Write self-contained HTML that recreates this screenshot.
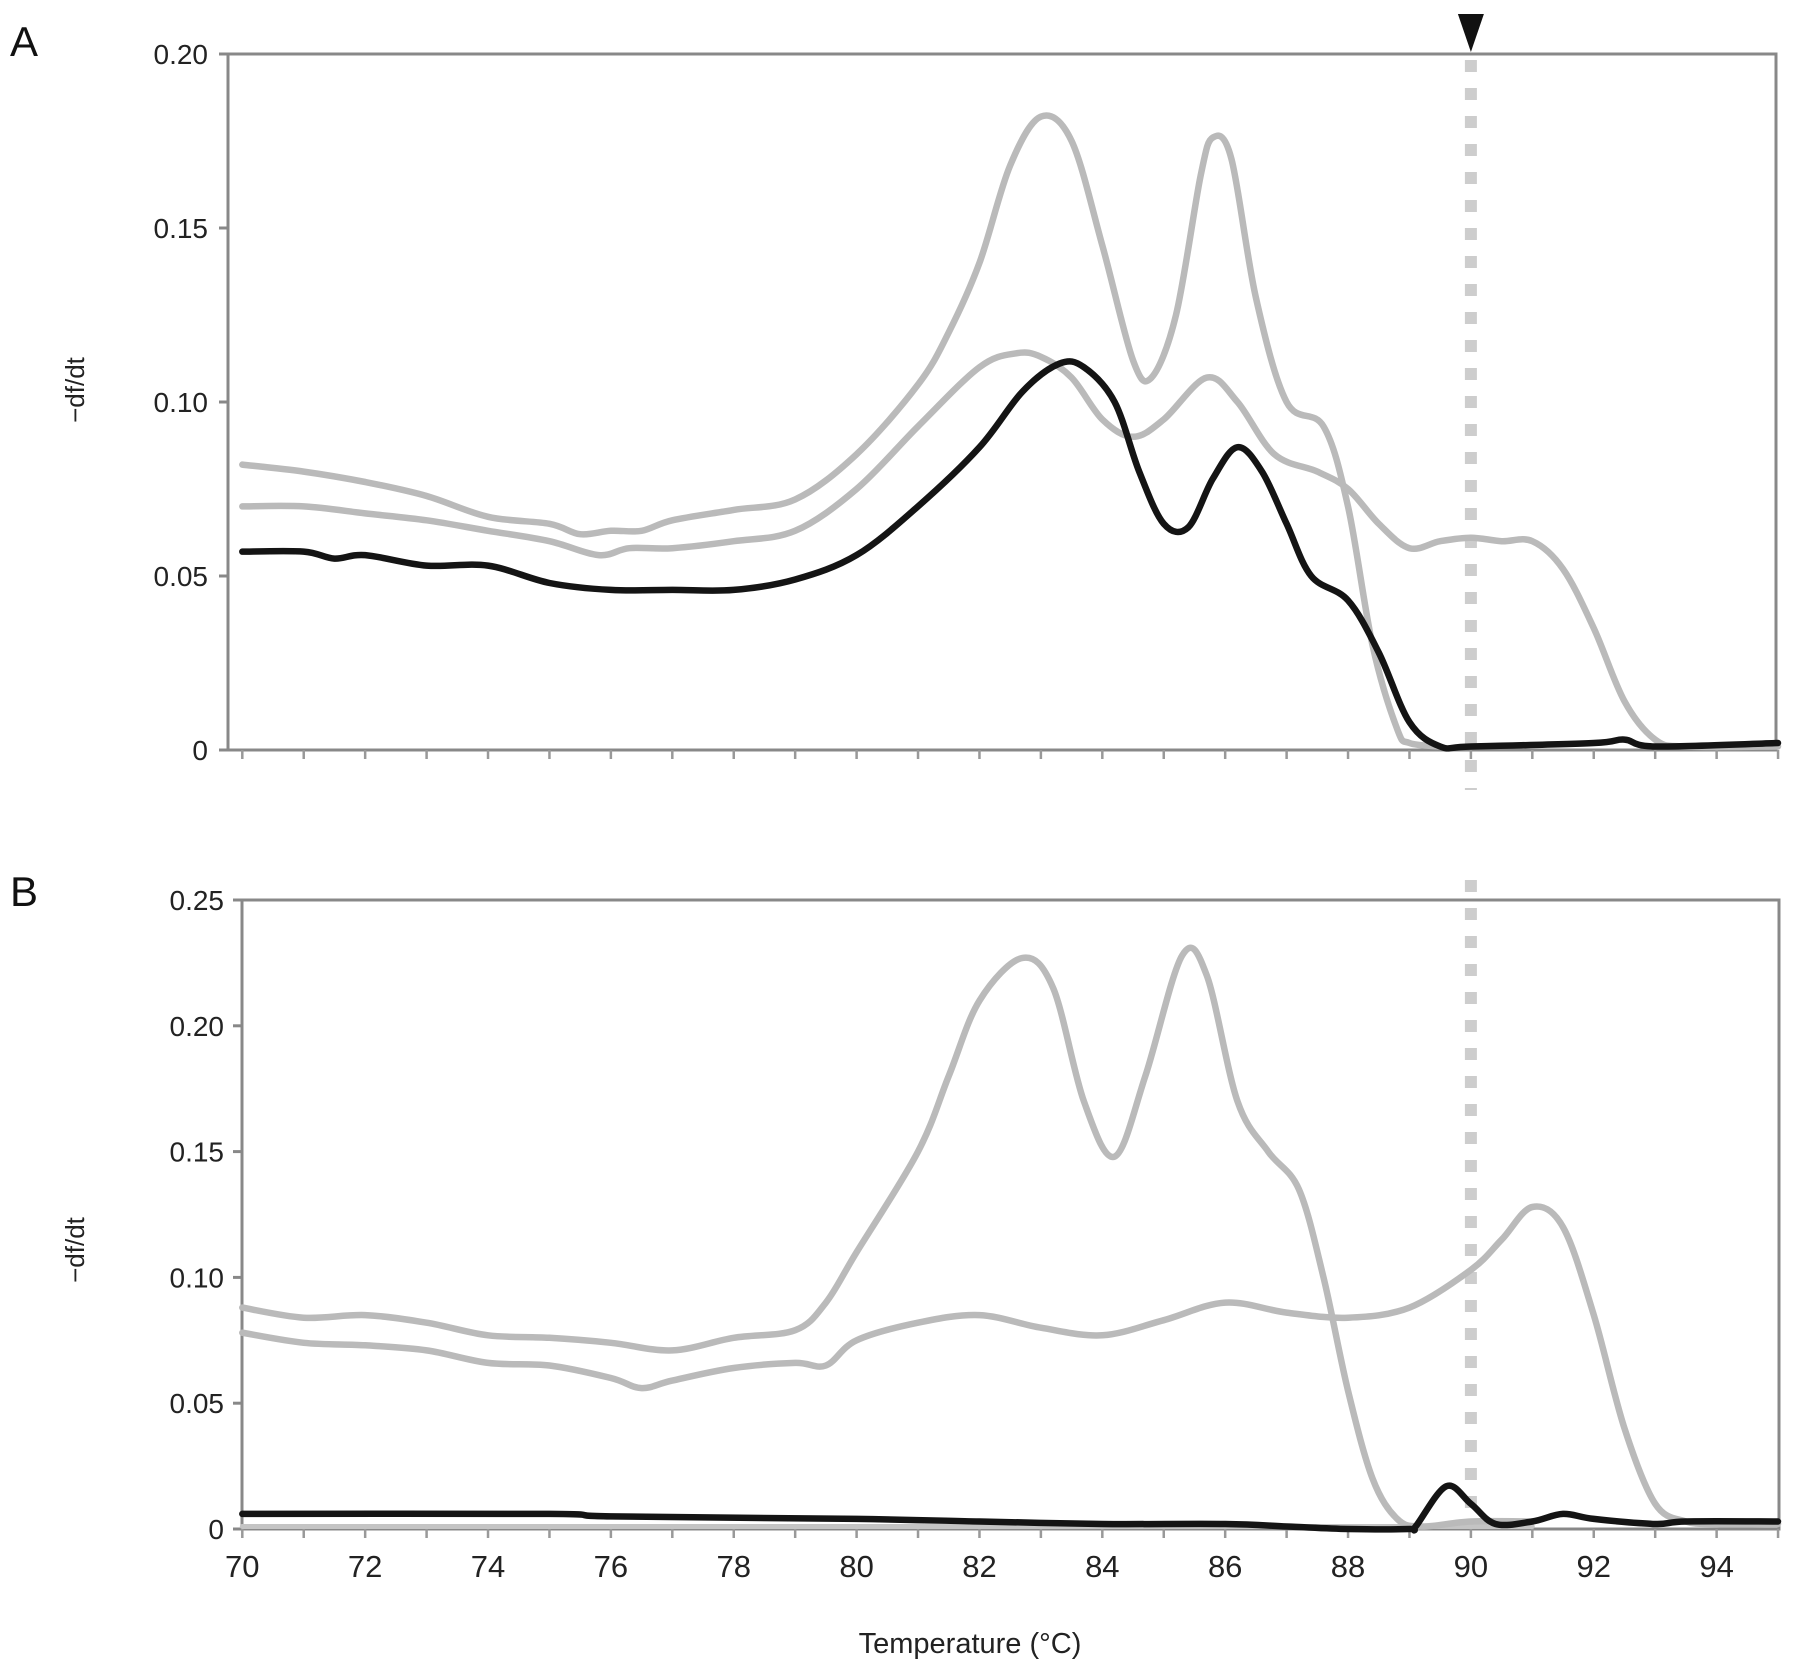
<!DOCTYPE html>
<html><head><meta charset="utf-8"><style>
html,body{margin:0;padding:0;background:#fff;}
svg{display:block;font-family:"Liberation Sans",Arial,sans-serif;}
</style></head><body>
<svg id="chart" width="1795" height="1674" viewBox="0 0 1795 1674" xmlns="http://www.w3.org/2000/svg">
<text x="10" y="56" font-size="42" fill="#111">A</text>
<text x="10" y="906" font-size="42" fill="#111">B</text>
<text transform="translate(84,390) rotate(-90)" text-anchor="middle" font-size="26" fill="#222">−df/dt</text>
<text transform="translate(84,1250) rotate(-90)" text-anchor="middle" font-size="26" fill="#222">−df/dt</text>
<text x="970" y="1653" text-anchor="middle" font-size="29" fill="#222">Temperature (°C)</text>
<g id="pa"></g>
<g id="pb"></g>
</svg>
<script>
const xTicks=[70,72,74,76,78,80,82,84,86,88,90,92,94];
const aYTicks=[0,0.05,0.10,0.15,0.20];
const aYLabels=["0","0.05","0.10","0.15","0.20"];
const bYTicks=[0,0.05,0.10,0.15,0.20,0.25];
const bYLabels=["0","0.05","0.10","0.15","0.20","0.25"];
const markerTemp=90;

const aGray1X=[70,71,72,73,74,75,75.5,76,76.5,77,78,79,80,81,81.5,82,82.5,83,83.5,84,84.5,84.8,85.2,85.6,85.8,86.1,86.5,87,87.6,88,88.4,88.8,89,89.5];
const aGray1Y=[0.082,0.080,0.077,0.073,0.067,0.065,0.062,0.063,0.063,0.066,0.069,0.072,0.085,0.105,0.12,0.14,0.168,0.182,0.175,0.145,0.112,0.107,0.125,0.165,0.176,0.17,0.13,0.10,0.093,0.07,0.03,0.006,0.002,0.001];
const aGray2X=[70,71,72,73,74,75,75.8,76.3,77,78,79,80,81,82,82.6,83,83.5,84,84.5,85,85.7,86.2,86.8,87.5,88,88.5,89,89.5,90,90.5,91,91.5,92,92.5,93,93.5,95];
const aGray2Y=[0.07,0.07,0.068,0.066,0.063,0.06,0.056,0.058,0.058,0.06,0.063,0.075,0.093,0.11,0.114,0.113,0.107,0.095,0.09,0.095,0.107,0.1,0.085,0.08,0.075,0.065,0.058,0.06,0.061,0.06,0.06,0.052,0.035,0.014,0.003,0.001,0.001];
const aBlackX=[70,71,71.5,72,73,74,75,76,77,78,79,80,81,82,82.7,83.3,83.7,84.2,84.6,85,85.4,85.8,86.2,86.6,87,87.4,88,88.5,89,89.5,90,92,92.5,93,95];
const aBlackY=[0.057,0.057,0.055,0.056,0.053,0.053,0.048,0.046,0.046,0.046,0.049,0.056,0.07,0.087,0.103,0.111,0.11,0.1,0.08,0.065,0.064,0.078,0.087,0.08,0.065,0.05,0.043,0.028,0.008,0.001,0.001,0.002,0.003,0.001,0.002];

const bGray1X=[70,71,72,73,74,75,76,77,78,79,79.5,80,81,81.5,82,82.7,83.2,83.7,84.2,84.7,85.3,85.7,86.2,86.7,87.2,87.6,88,88.4,88.8,89.2,90,91];
const bGray1Y=[0.088,0.084,0.085,0.082,0.077,0.076,0.074,0.071,0.076,0.079,0.09,0.11,0.15,0.18,0.21,0.227,0.215,0.17,0.148,0.18,0.228,0.22,0.17,0.15,0.135,0.10,0.055,0.02,0.004,0.001,0.003,0.003];
const bGray2X=[70,71,72,73,74,75,76,76.5,77,78,79,79.5,80,81,82,83,84,85,86,87,88,89,90,90.5,91,91.5,92,92.5,93,93.5,94,95];
const bGray2Y=[0.078,0.074,0.073,0.071,0.066,0.065,0.06,0.056,0.059,0.064,0.066,0.065,0.075,0.082,0.085,0.08,0.077,0.083,0.09,0.086,0.084,0.088,0.103,0.115,0.128,0.12,0.085,0.04,0.01,0.003,0.002,0.002];
const bBaseX=[70,80,91];
const bBaseY=[0.001,0.001,0.001];
const bBlackX=[70,75,76,80,82,84,86,87,88,89,89.1,89.6,90,90.4,91,91.5,92,93,93.5,95];
const bBlackY=[0.006,0.006,0.005,0.004,0.003,0.002,0.002,0.001,0,0,0.001,0.017,0.01,0.002,0.003,0.006,0.004,0.002,0.003,0.003];

const NS="http://www.w3.org/2000/svg";
function mk(tag,attrs,parent){const e=document.createElementNS(NS,tag);for(const k in attrs)e.setAttribute(k,attrs[k]);parent.appendChild(e);return e;}
const xScale=t=>242.3+(t-70)*61.43;
function smooth(px,py){let d="M"+px[0]+","+py[0];for(let i=0;i<px.length-1;i++){const p0=i>0?i-1:i,p3=i+2<px.length?i+2:i+1;const c1x=px[i]+(px[i+1]-px[p0])/6,c1y=py[i]+(py[i+1]-py[p0])/6;const c2x=px[i+1]-(px[p3]-px[i])/6,c2y=py[i+1]-(py[p3]-py[i])/6;d+=" C"+c1x.toFixed(1)+","+c1y.toFixed(1)+" "+c2x.toFixed(1)+","+c2y.toFixed(1)+" "+px[i+1].toFixed(1)+","+py[i+1].toFixed(1);}return d;}

function panel(g,cfg){
  const y=v=>cfg.y0-(v/cfg.ymax)*(cfg.y0-cfg.ytop);
  const r=mk('rect',{x:cfg.left,y:cfg.ytop,width:cfg.right-cfg.left,height:cfg.y0-cfg.ytop,fill:'none',stroke:'#888','stroke-width':3},g);
  
  
  cfg.yt.forEach((v,i)=>{
    const l=mk('line',{x1:cfg.left-9,x2:cfg.left,y1:y(v),y2:y(v),stroke:'#888','stroke-width':3},g);
    
    
    const t=mk('text',{x:cfg.lblx,y:y(v)+10,'text-anchor':'end','font-size':28,fill:'#222'},g);
    t.textContent=cfg.yl[i];
    
    
  });
  for(let tt=70;tt<=95;tt++){
    const l=mk('line',{x1:xScale(tt),x2:xScale(tt),y1:cfg.y0,y2:cfg.y0+9,stroke:'#999','stroke-width':2.5},g);
    
    
  }
  if(cfg.labels){xTicks.forEach(v=>{
    const t=mk('text',{x:xScale(v),y:1577,'text-anchor':'middle','font-size':31,fill:'#222'},g);
    t.textContent=String(v);
    
    
  });}
  const dl=mk('line',{x1:xScale(markerTemp),x2:xScale(markerTemp),y1:cfg.dtop,y2:cfg.dbot,stroke:'#cdcdcd','stroke-width':12,'stroke-dasharray':'12 16'},g);
  
  
  cfg.series.forEach(s=>{
    const p=mk('path',{d:smooth(s.x.map(xScale),s.y.map(y)),fill:'none',stroke:s.c,'stroke-width':s.w,'stroke-linejoin':'round','stroke-linecap':'round'},g);
    
    
  });
}
panel(document.getElementById('pa'),{p:'panel-a',left:228,right:1776,ytop:54,y0:750,ymax:0.20,yt:aYTicks,yl:aYLabels,lblx:208,labels:false,dtop:60,dbot:790,
 series:[{x:aGray1X,y:aGray1Y,c:'#bababa',w:6.5,n:'panel-a-gray-curve-1'},{x:aGray2X,y:aGray2Y,c:'#bababa',w:6.5,n:'panel-a-gray-curve-2'},{x:aBlackX,y:aBlackY,c:'#141414',w:6.5,n:'panel-a-black-curve'}]});
panel(document.getElementById('pb'),{p:'panel-b',left:242,right:1779,ytop:900,y0:1529,ymax:0.25,yt:bYTicks,yl:bYLabels,lblx:224,labels:true,dtop:880,dbot:1529,
 series:[{x:bBaseX,y:bBaseY,c:'#c4c4c4',w:5,n:'panel-b-baseline-curve'},{x:bGray1X,y:bGray1Y,c:'#bababa',w:6.5,n:'panel-b-gray-curve-1'},{x:bGray2X,y:bGray2Y,c:'#bababa',w:6.5,n:'panel-b-gray-curve-2'},{x:bBlackX,y:bBlackY,c:'#141414',w:6.5,n:'panel-b-black-curve'}]});
const tri=mk('path',{d:`M${xScale(markerTemp)-13},14 L${xScale(markerTemp)+13},14 L${xScale(markerTemp)},52 Z`,fill:'#111'},document.getElementById('chart'));


</script>
</body></html>
